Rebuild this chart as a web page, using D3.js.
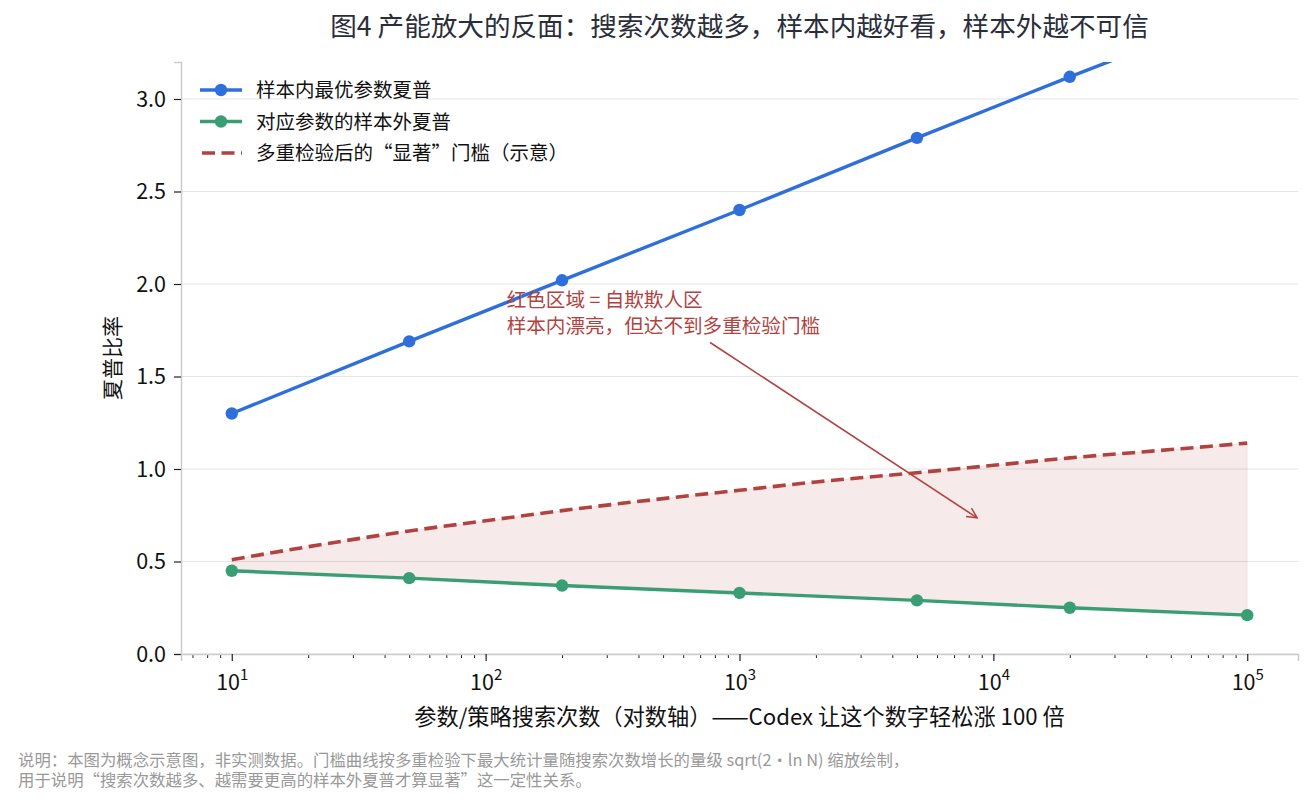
<!DOCTYPE html>
<html>
<head>
<meta charset="utf-8">
<script src="https://cdn.jsdelivr.net/npm/d3@7/dist/d3.min.js"></script>
<style>
  body { margin: 0; background: #fff; }
  svg, svg text { font-family: "Noto Sans CJK SC", "Noto Sans", sans-serif; }
  .grid line { stroke: #e6e6e6; stroke-width: 1.2; }
  .tick text { fill: #111; }
</style>
</head>
<body>
<svg id="chart" width="1313" height="805"></svg>
<script>
// data
var searchCounts = [10, 50, 200, 1000, 5000, 20000, 100000];
var inSampleSharpe = [1.30, 1.69, 2.02, 2.40, 2.79, 3.12, 3.49];
var outSampleSharpe = [0.45, 0.41, 0.37, 0.33, 0.29, 0.25, 0.21];
var thresholdN = [10, 20, 50, 100, 200, 500, 1000, 2000, 5000, 10000, 20000, 50000, 100000];
var thresholdSharpe = [0.51, 0.58, 0.665, 0.72, 0.775, 0.84, 0.885, 0.93, 0.98, 1.02, 1.06, 1.105, 1.14];
var yTicks = [0.0, 0.5, 1.0, 1.5, 2.0, 2.5, 3.0];
var xTicks = [10, 100, 1000, 10000, 100000];
var seriesNames = ['样本内最优参数夏普', '对应参数的样本外夏普', '多重检验后的“显著”门槛（示意）'];
var seriesColors = ['#2f6fdc', '#3a9e74', '#b0433f'];

(function() {
  var svg = d3.select('#chart');
  var mLeft = 181, mRight = 1298, mTop = 62, mBottom = 654;
  var fontCJK = '"Noto Sans CJK SC", "Noto Sans", sans-serif';

  var x = d3.scaleLog().domain([Math.pow(10, 0.8), Math.pow(10, 5.2)]).range([mLeft, mRight]);
  var y = d3.scaleLinear().domain([0, 3.2]).range([mBottom, mTop]);

  // clip
  svg.append('clipPath').attr('id', 'plotclip')
    .append('rect').attr('x', mLeft).attr('y', mTop).attr('width', mRight - mLeft).attr('height', mBottom - mTop);

  // grid
  svg.append('g').attr('class', 'grid')
    .selectAll('line').data(yTicks).enter().append('line')
    .attr('x1', mLeft).attr('x2', mRight)
    .attr('y1', function(d) { return y(d); }).attr('y2', function(d) { return y(d); });

  // shaded region between threshold and out-of-sample
  var regionTop = thresholdN.map(function(n, i) { return [n, thresholdSharpe[i]]; });
  var outLine = searchCounts.map(function(n, i) { return [n, outSampleSharpe[i]]; });
  var inLine = searchCounts.map(function(n, i) { return [n, inSampleSharpe[i]]; });

  var lineGen = d3.line()
    .x(function(d) { return x(d[0]); })
    .y(function(d) { return y(d[1]); });

  var topPath = lineGen.curve(d3.curveMonotoneX)(regionTop);
  var backPts = outLine.slice().reverse().map(function(p) { return [x(p[0]), y(p[1])]; });
  svg.append('path')
    .attr('d', topPath + 'L' + backPts.join('L') + 'Z')
    .attr('fill', seriesColors[2])
    .attr('fill-opacity', 0.11)
    .attr('stroke', seriesColors[2])
    .attr('stroke-opacity', 0.08);

  var plot = svg.append('g').attr('clip-path', 'url(#plotclip)');

  // threshold dashed
  plot.append('path')
    .attr('d', topPath)
    .attr('fill', 'none')
    .attr('stroke', seriesColors[2])
    .attr('stroke-width', 3.6)
    .attr('stroke-dasharray', '13,6.5');

  lineGen.curve(d3.curveLinear);

  [inLine, outLine].forEach(function(pts, k) {
    plot.append('path')
      .attr('d', lineGen(pts))
      .attr('fill', 'none')
      .attr('stroke', seriesColors[k])
      .attr('stroke-width', 3.4);
    plot.selectAll('.dot' + k).data(pts).enter().append('circle')
      .attr('class', 'dot' + k)
      .attr('cx', function(d) { return x(d[0]); })
      .attr('cy', function(d) { return y(d[1]); })
      .attr('r', 6.2)
      .attr('fill', seriesColors[k]);
  });

  // axes
  var yAxis = svg.append('g')
    .attr('transform', 'translate(' + mLeft + ',0)')
    .call(d3.axisLeft(y).tickValues(yTicks).tickFormat(d3.format('.1f')).tickSize(7).tickPadding(8));
  yAxis.attr('font-family', fontCJK);
  yAxis.selectAll('.tick text').attr('font-size', 21.5).attr('dy', '0.34em');
  yAxis.selectAll('.tick line').attr('stroke', '#222').attr('stroke-width', 1.2);
  yAxis.select('.domain').attr('stroke', '#cccccc').attr('stroke-width', 1.5);

  var minorTicks = [];
  for (var e = 0; e <= 5; e++) {
    for (var m = 2; m <= 9; m++) {
      var v = m * Math.pow(10, e);
      if (v > x.domain()[0] && v < x.domain()[1]) minorTicks.push(v);
    }
  }
  var xMinor = svg.append('g')
    .attr('transform', 'translate(0,' + mBottom + ')')
    .call(d3.axisBottom(x).tickValues(minorTicks).tickFormat('').tickSize(4));
  xMinor.selectAll('.tick line').attr('stroke', '#222');
  xMinor.select('.domain').remove();

  var xAxis = svg.append('g')
    .attr('transform', 'translate(0,' + mBottom + ')')
    .call(d3.axisBottom(x).tickValues(xTicks).tickFormat('').tickSize(7));
  xAxis.attr('font-family', fontCJK);
  xAxis.selectAll('.tick line').attr('stroke', '#222').attr('stroke-width', 1.2);
  xAxis.select('.domain').attr('stroke', '#cccccc').attr('stroke-width', 1.5);
  xAxis.selectAll('.tick').append('text')
    .attr('y', 36)
    .attr('text-anchor', 'middle')
    .attr('font-size', 21.5)
    .attr('fill', '#111')
    .each(function(d) {
      var t = d3.select(this);
      t.append('tspan').text('10');
      t.append('tspan').attr('dy', -10).attr('font-size', 15).text(Math.round(Math.log10(d)));
    });

  // titles
  svg.append('text')
    .attr('x', (mLeft + mRight) / 2).attr('y', 36)
    .attr('text-anchor', 'middle')
    .attr('font-size', 26.6)
    .attr('fill', '#2a2e3a')
    .text('图4 产能放大的反面：搜索次数越多，样本内越好看，样本外越不可信');

  svg.append('text')
    .attr('x', (mLeft + mRight) / 2).attr('y', 725)
    .attr('text-anchor', 'middle')
    .attr('font-size', 22.2)
    .attr('fill', '#111')
    .text('参数/策略搜索次数（对数轴）——Codex 让这个数字轻松涨 100 倍');

  svg.append('text')
    .attr('transform', 'translate(120,' + ((mTop + mBottom) / 2) + ') rotate(-90)')
    .attr('text-anchor', 'middle')
    .attr('font-size', 21)
    .attr('fill', '#111')
    .text('夏普比率');

  // legend
  var legend = svg.append('g').attr('transform', 'translate(198,90)');
  seriesNames.forEach(function(name, i) {
    var row = legend.append('g').attr('transform', 'translate(0,' + (i * 31.5) + ')');
    var ln = row.append('line').attr('x1', 2).attr('x2', 44).attr('y1', 0).attr('y2', 0)
      .attr('stroke', seriesColors[i]).attr('stroke-width', 3.4);
    if (i < 2) {
      row.append('circle').attr('cx', 23).attr('cy', 0).attr('r', 6.2).attr('fill', seriesColors[i]);
    } else {
      ln.attr('stroke-dasharray', '13,6.5').attr('x1', 4).attr('stroke-width', 3.6);
    }
    row.append('text').attr('x', 58).attr('y', 7)
      .attr('font-size', 19.5).attr('fill', '#111').text(name);
  });

  // annotation
  var annColor = '#b0433f';
  var ann = svg.append('text').attr('y', 307)
    .attr('font-size', 19.6).attr('fill', annColor);
  ann.append('tspan').attr('x', x(121)).text('红色区域 = 自欺欺人区');
  ann.append('tspan').attr('x', x(121)).attr('dy', 26).text('样本内漂亮，但达不到多重检验门槛');

  svg.append('defs').append('marker')
    .attr('id', 'arrowhead')
    .attr('viewBox', '0 0 12 12').attr('refX', 11).attr('refY', 6)
    .attr('markerWidth', 12).attr('markerHeight', 12).attr('markerUnits', 'userSpaceOnUse')
    .attr('orient', 'auto')
    .append('path').attr('d', 'M1,1 L11,6 L1,11')
    .attr('fill', 'none').attr('stroke', annColor).attr('stroke-width', 1.5);

  svg.append('line')
    .attr('x1', x(766)).attr('y1', y(1.684))
    .attr('x2', x(8630)).attr('y2', y(0.736))
    .attr('stroke', annColor).attr('stroke-width', 1.6)
    .attr('marker-end', 'url(#arrowhead)');

  // footnote
  var note = svg.append('text').attr('font-size', 16.4).attr('fill', '#999999');
  note.append('tspan').attr('x', 18).attr('y', 766)
    .text('说明：本图为概念示意图，非实测数据。门槛曲线按多重检验下最大统计量随搜索次数增长的量级 sqrt(2・ln N) 缩放绘制，');
  note.append('tspan').attr('x', 18).attr('y', 786)
    .text('用于说明“搜索次数越多、越需要更高的样本外夏普才算显著”这一定性关系。');
})();
</script>
</body>
</html>
